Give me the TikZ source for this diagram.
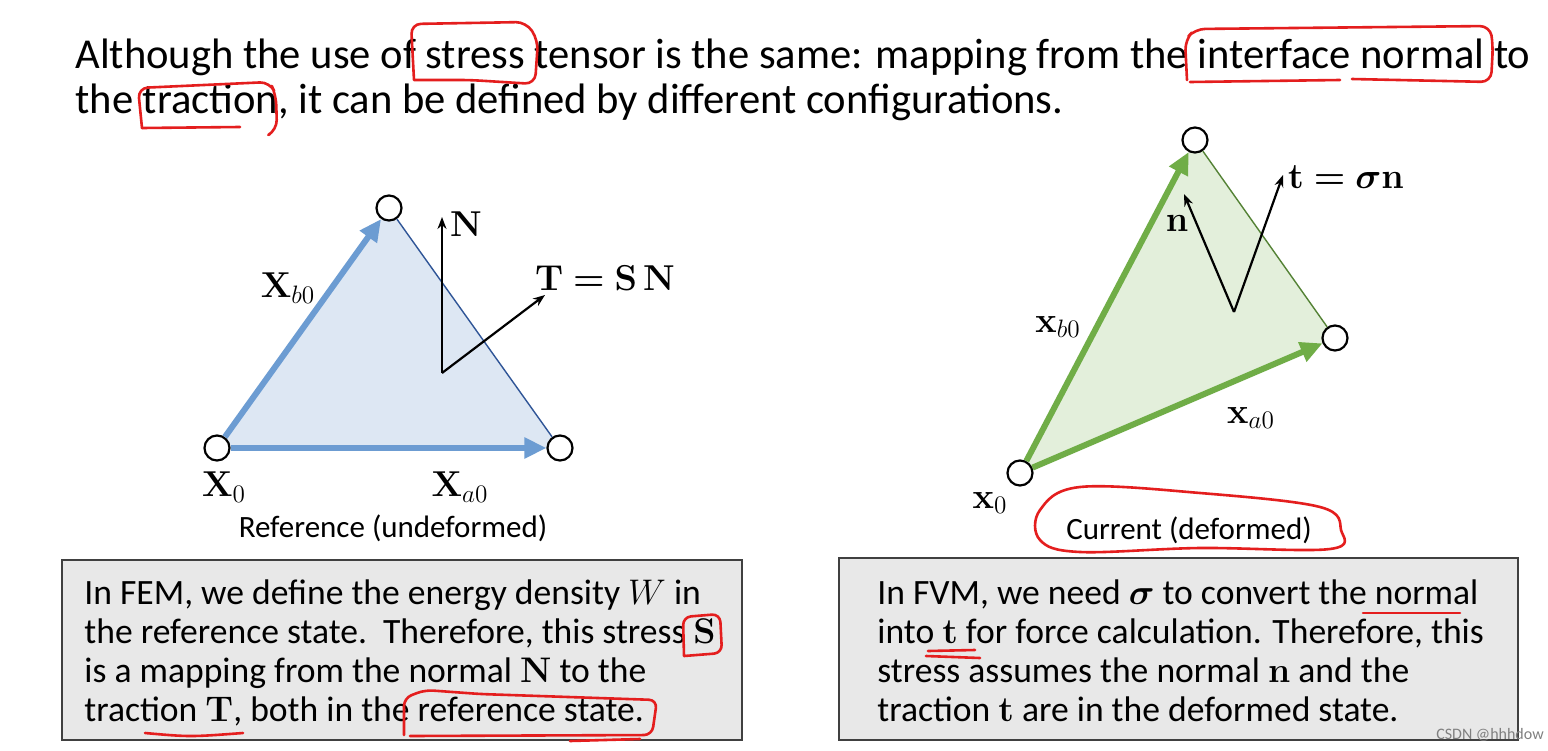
\RequirePackage{fix-cm}
\documentclass[tikz,border=0pt]{standalone}
\usepackage[no-math]{fontspec}
\setmainfont{Carlito}
\usepackage{amsmath}
\usepackage{bm}
\usetikzlibrary{arrows.meta}
\definecolor{refblue}{RGB}{108,156,210}
\definecolor{reffill}{RGB}{221,231,243}
\definecolor{refedge}{RGB}{47,85,151}
\definecolor{curgreen}{RGB}{112,173,71}
\definecolor{curfill}{RGB}{227,239,219}
\definecolor{curedge}{RGB}{84,130,53}
\definecolor{boxgray}{RGB}{232,232,232}
\definecolor{boxedge}{RGB}{64,64,64}
\definecolor{penred}{RGB}{228,30,30}
\newcommand{\bvec}[1]{\mathbf{#1}}

\tikzset{
  vertex/.style={circle, draw=black, fill=white, line width=1.1pt,
                 minimum size=12.5pt, inner sep=0pt},
  edgearrow/.style={line width=3pt, -{Triangle[length=11pt,width=10pt]}},
  normarrow/.style={line width=1.1pt, -{Stealth[length=6pt,width=4.5pt]}},
  lbl/.style={inner sep=0pt, font=\fontsize{18}{20}\selectfont},
  caption/.style={inner sep=0pt, font=\fontsize{15.5}{17}\selectfont},
  titleline/.style={anchor=base west, inner sep=0pt, font=\fontsize{21.3}{23}\selectfont},
  boxline/.style={anchor=base west, inner sep=0pt, font=\fontsize{17.8}{20}\selectfont},
  infobox/.style={draw=boxedge, fill=boxgray, line width=1pt},
  pen/.style={draw=penred, line width=1.3pt, line cap=round, line join=round},
}

\begin{document}
\begin{tikzpicture}[x=0.5pt, y=-0.5pt]
  \fill[white] (0,0) rectangle (1548,750);
  \useasboundingbox (0,0) rectangle (1548,750);

  % title
  \node[titleline] (title1) at (75,68)
    {Although the use of stress tensor is the same: mapping from the interface normal to};
  \node[titleline] (title2) at (75,113)
    {the traction, it can be defined by different configurations.};

  % reference configuration
  \coordinate (cX0) at (217,448);
  \coordinate (cXb) at (389,208);
  \coordinate (cXa) at (560,448);
  \fill[reffill] (cX0) -- (cXb) -- (cXa) -- cycle;
  \node[vertex] (X0) at (cX0) {};
  \node[vertex] (Xb) at (cXb) {};
  \node[vertex] (Xa) at (cXa) {};
  \draw[refedge, line width=0.7pt] (Xb) -- (Xa);
  \draw[edgearrow, refblue] (X0) -- (Xb);
  \draw[edgearrow, refblue] (X0) -- (Xa);

  \coordinate (Nbase) at (442,373);
  \coordinate (Ntip) at (442,217);
  \coordinate (Ttip) at (545,295);
  \draw[normarrow] (Nbase) -- (Ntip);
  \draw[normarrow] (Nbase) -- (Ttip);

  \node[lbl] (lXb) at (288,288) {$\bvec{X}_{b0}$};
  \node[lbl] (lX0) at (224,487) {$\bvec{X}_{0}$};
  \node[lbl] (lXa) at (460,487) {$\bvec{X}_{a0}$};
  \node[lbl] (lN) at (466,224) {$\bvec{N}$};
  \node[lbl] (lT) at (605,278) {$\bvec{T} \boldsymbol{=} \bvec{S}\,\bvec{N}$};
  \node[caption] (refcap) at (393,528) {Reference (undeformed)};

  % current configuration
  \coordinate (cx0) at (1020,473);
  \coordinate (cxb) at (1195,140);
  \coordinate (cxa) at (1335,338);
  \fill[curfill] (cx0) -- (cxb) -- (cxa) -- cycle;
  \node[vertex] (x0) at (cx0) {};
  \node[vertex] (xb) at (cxb) {};
  \node[vertex] (xa) at (cxa) {};
  \draw[curedge, line width=0.7pt] (xb) -- (xa);
  \draw[edgearrow, curgreen] (x0) -- (xb);
  \draw[edgearrow, curgreen] (x0) -- (xa);

  \coordinate (nbase) at (1234,312);
  \coordinate (ntip) at (1184,194);
  \coordinate (ttip) at (1283,175);
  \draw[normarrow] (nbase) -- (ntip);
  \draw[normarrow] (nbase) -- (ttip);

  \node[lbl] (lxb) at (1058,327) {$\bvec{x}_{b0}$};
  \node[lbl] (lx0) at (990,503) {$\bvec{x}_{0}$};
  \node[lbl] (lxa) at (1251,418) {$\bvec{x}_{a0}$};
  \node[lbl] (ln) at (1177,223) {$\bvec{n}$};
  \node[lbl] (lt) at (1346,177) {$\bvec{t} \boldsymbol{=} \bm{\sigma}\bvec{n}$};
  \node[caption] (curcap) at (1189,530) {Current (deformed)};

  % text boxes
  \draw[infobox] (62,560) rectangle (742,740);
  \node[boxline] (fem1) at (84,604) {In FEM, we define the energy density $W$ in};
  \node[boxline] (fem2) at (84,643) {the reference state.\ \ Therefore, this stress $\bvec{S}$};
  \node[boxline] (fem3) at (84,682) {is a mapping from the normal $\bvec{N}$ to the};
  \node[boxline] (fem4) at (84,721) {traction $\bvec{T}$, both in the reference state.};

  \draw[infobox] (839,558) rectangle (1518,740);
  \node[boxline] (fvm1) at (877,604) {In FVM, we need $\bm{\sigma}$ to convert the normal};
  \node[boxline] (fvm2) at (877,643) {into $\bvec{t}$ for force calculation. Therefore, this};
  \node[boxline] (fvm3) at (877,682) {stress assumes the normal $\bvec{n}$ and the};
  \node[boxline] (fvm4) at (877,721) {traction $\bvec{t}$ are in the deformed state.};

  % hand-drawn marks
  \draw[pen, rounded corners=5pt] (414,80) -- (411,24) -- (526,22) -- (538,40) -- (535,84) -- (470,80) -- (414,80);
  \draw[pen, rounded corners=5pt] (1187,80) -- (1185,40) -- (1195,29) -- (1490,26) -- (1493,45) -- (1491,82) -- (1352,79);
  \draw[pen, rounded corners=5pt] (1340,80) -- (1190,82);
  \draw[pen, rounded corners=5pt] (142,128) -- (138,88) -- (270,82) -- (276,95) -- (277,130) -- (270,134);
  \draw[pen, rounded corners=4pt] (142,128) -- (240,127);
  \draw[pen] plot[smooth cycle, tension=0.6] coordinates
    {(1080,487) (1200,493) (1320,507) (1341,530) (1330,549) (1200,548) (1080,552) (1040,540) (1040,510)};
  \draw[pen, rounded corners=4pt] (684,656) -- (683,617) -- (720,614) -- (722,653) -- (684,656);
  \draw[pen, rounded corners=4pt] (404,735) -- (404,698) -- (425,690) -- (480,694) -- (657,700) -- (652,735) -- (410,736);
  \draw[pen] (570,741) -- (640,739);
  \draw[pen] (145,733) .. controls (190,737) .. (243,733);
  \draw[pen] (1363,613) -- (1460,613);
  \draw[pen] (928,651) -- (975,650);
  \draw[pen] (926,656) -- (980,658);

  % watermark
  \node[inner sep=0pt, text=gray, font=\fontsize{8}{9}\selectfont] (mark) at (1490,735) {CSDN @hhhdow};
\end{tikzpicture}
\end{document}
